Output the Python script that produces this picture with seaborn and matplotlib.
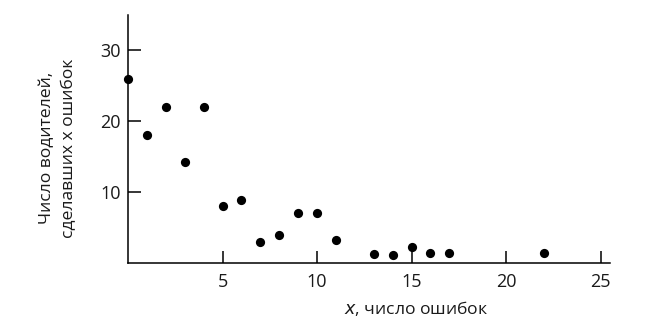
import matplotlib
matplotlib.use("Agg")
import matplotlib.pyplot as plt
import seaborn as sns
import pandas as pd

errors = [0, 1, 2, 3, 4, 5, 6, 7, 8, 9, 10, 11, 13, 14, 15, 16, 17, 22]
drivers = [26, 18.1, 22, 14.3, 22, 8.1, 8.9, 3.0, 4.0, 7.0, 7.0, 3.2, 1.2, 1.1, 2.3, 1.4, 1.4, 1.4]
x_ticks = [5, 10, 15, 20, 25]
y_ticks = [10, 20, 30]

sns.set_theme(style="white")
plt.rcParams['font.family'] = ['Open Sans', 'DejaVu Sans']

df = pd.DataFrame({"x": errors, "y": drivers})

fig = plt.figure(figsize=(6.54, 3.33), dpi=100)
ax = fig.add_axes([128/654, 70/333, 482/654, 248/333])
sns.scatterplot(data=df, x="x", y="y", ax=ax, color="black", s=44,
                edgecolor="black", linewidth=0, clip_on=False, zorder=3)

ax.set_xlim(0, 25.5)
ax.set_ylim(0, 35)
ax.set_xticks(x_ticks)
ax.set_yticks(y_ticks)
ax.tick_params(direction="in", length=9, width=1.1, color="black",
               labelsize=13, labelcolor="#1a1a1a", pad=5,
               bottom=True, left=True)
ax.tick_params(axis="x", pad=7)
for side in ["top", "right"]:
    ax.spines[side].set_visible(False)
for side in ["left", "bottom"]:
    ax.spines[side].set_color("black")
    ax.spines[side].set_linewidth(1.1)

ax.set_xlabel("")
ax.set_ylabel("")
fig.text(416/654, 1 - 308/333, "$\\it{x}$, число ошибок", ha="center", va="center",
         fontsize=12.6, color="#1a1a1a")
fig.text(58/654, 1 - 148/333, "Число водителей,\nсделавших x ошибок", ha="center",
         va="center", rotation=90, fontsize=12.6, color="#1a1a1a", linespacing=1.5)

fig.savefig("out.png", dpi=100)
